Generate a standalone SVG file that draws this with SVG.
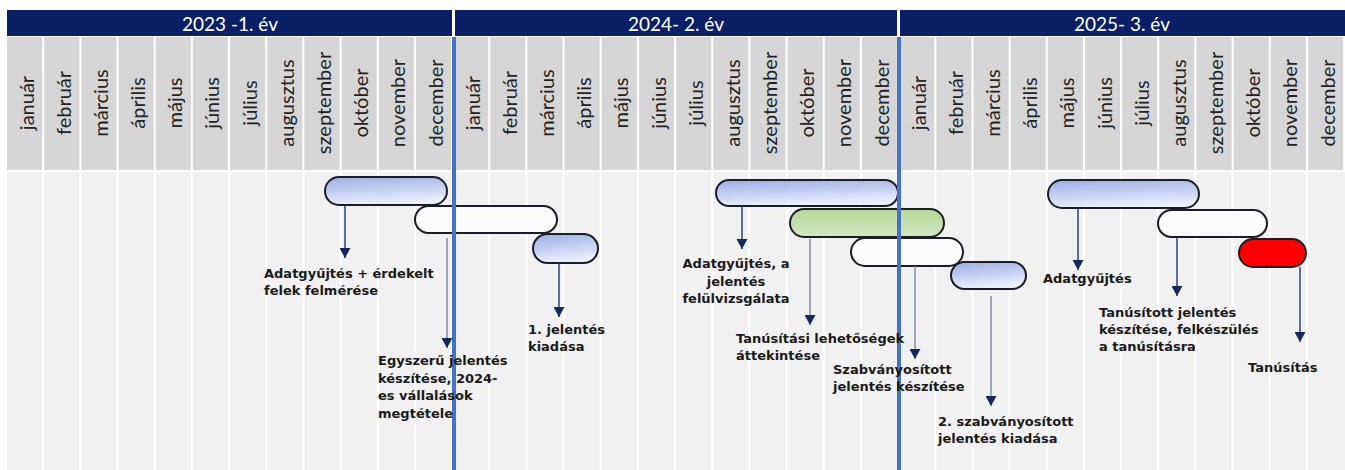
<svg xmlns="http://www.w3.org/2000/svg" width="1345" height="470" viewBox="0 0 1345 470">
<defs>
<style>
.yr{fill:#0b1f66}
.yt{font-family:Lato,"Liberation Sans",sans-serif;font-size:19px;fill:#fff;text-anchor:middle}
.ch{fill:#d6d6d6}
.cb{fill:#f1f1f1}
.mo{font-family:Lato,"Liberation Sans",sans-serif;font-size:20px;fill:#222;text-anchor:middle}
.sep{fill:#4472c4}
.bar{stroke:#1c1c28;stroke-width:2}
.lb{font-family:"DejaVu Sans",Verdana,sans-serif;font-weight:bold;font-size:13px;fill:#1a1a1a}
.cn{fill:none;stroke-width:1.4;marker-end:url(#ah)}
.dk{stroke:#1f3468}
.lt{stroke:#7d869e}
</style>
<linearGradient id="gb" x1="0" y1="0" x2="0.25" y2="1">
<stop offset="0" stop-color="#9aade5"/>
<stop offset="1" stop-color="#eaeffb"/>
</linearGradient>
<linearGradient id="gg" x1="0" y1="0" x2="0" y2="1">
<stop offset="0" stop-color="#b3d796"/>
<stop offset="1" stop-color="#d3e8c2"/>
</linearGradient>
<marker id="ah" viewBox="0 0 10 11" refX="10" refY="5.5" markerWidth="10" markerHeight="11" markerUnits="userSpaceOnUse" orient="auto">
<path d="M0,0 L10,5.5 L0,11 z" fill="#14285e"/>
</marker>
</defs>
<rect width="1345" height="470" fill="#fff"/>
<g id="years">
<rect class="yr" x="7" y="10" width="445" height="26"/>
<rect class="yr" x="455" y="10" width="442" height="26"/>
<rect class="yr" x="900" y="10" width="445" height="26"/>
<text class="yt" x="230" y="31">2023 -1. év</text>
<text class="yt" x="676" y="31">2024- 2. év</text>
<text class="yt" x="1122" y="31">2025- 3. év</text>
</g>
<g id="columns">
<rect class="ch" x="7" y="37" width="35.2" height="133"/><rect class="cb" x="7" y="172" width="35.2" height="298"/>
<rect class="ch" x="44.17" y="37" width="35.2" height="133"/><rect class="cb" x="44.17" y="172" width="35.2" height="298"/>
<rect class="ch" x="81.34" y="37" width="35.2" height="133"/><rect class="cb" x="81.34" y="172" width="35.2" height="298"/>
<rect class="ch" x="118.51" y="37" width="35.2" height="133"/><rect class="cb" x="118.51" y="172" width="35.2" height="298"/>
<rect class="ch" x="155.68" y="37" width="35.2" height="133"/><rect class="cb" x="155.68" y="172" width="35.2" height="298"/>
<rect class="ch" x="192.85" y="37" width="35.2" height="133"/><rect class="cb" x="192.85" y="172" width="35.2" height="298"/>
<rect class="ch" x="230.02" y="37" width="35.2" height="133"/><rect class="cb" x="230.02" y="172" width="35.2" height="298"/>
<rect class="ch" x="267.19" y="37" width="35.2" height="133"/><rect class="cb" x="267.19" y="172" width="35.2" height="298"/>
<rect class="ch" x="304.36" y="37" width="35.2" height="133"/><rect class="cb" x="304.36" y="172" width="35.2" height="298"/>
<rect class="ch" x="341.53" y="37" width="35.2" height="133"/><rect class="cb" x="341.53" y="172" width="35.2" height="298"/>
<rect class="ch" x="378.7" y="37" width="35.2" height="133"/><rect class="cb" x="378.7" y="172" width="35.2" height="298"/>
<rect class="ch" x="415.87" y="37" width="35.2" height="133"/><rect class="cb" x="415.87" y="172" width="35.2" height="298"/>
<rect class="ch" x="453.04" y="37" width="35.2" height="133"/><rect class="cb" x="453.04" y="172" width="35.2" height="298"/>
<rect class="ch" x="490.21" y="37" width="35.2" height="133"/><rect class="cb" x="490.21" y="172" width="35.2" height="298"/>
<rect class="ch" x="527.38" y="37" width="35.2" height="133"/><rect class="cb" x="527.38" y="172" width="35.2" height="298"/>
<rect class="ch" x="564.55" y="37" width="35.2" height="133"/><rect class="cb" x="564.55" y="172" width="35.2" height="298"/>
<rect class="ch" x="601.72" y="37" width="35.2" height="133"/><rect class="cb" x="601.72" y="172" width="35.2" height="298"/>
<rect class="ch" x="638.89" y="37" width="35.2" height="133"/><rect class="cb" x="638.89" y="172" width="35.2" height="298"/>
<rect class="ch" x="676.06" y="37" width="35.2" height="133"/><rect class="cb" x="676.06" y="172" width="35.2" height="298"/>
<rect class="ch" x="713.23" y="37" width="35.2" height="133"/><rect class="cb" x="713.23" y="172" width="35.2" height="298"/>
<rect class="ch" x="750.4" y="37" width="35.2" height="133"/><rect class="cb" x="750.4" y="172" width="35.2" height="298"/>
<rect class="ch" x="787.57" y="37" width="35.2" height="133"/><rect class="cb" x="787.57" y="172" width="35.2" height="298"/>
<rect class="ch" x="824.74" y="37" width="35.2" height="133"/><rect class="cb" x="824.74" y="172" width="35.2" height="298"/>
<rect class="ch" x="861.91" y="37" width="35.2" height="133"/><rect class="cb" x="861.91" y="172" width="35.2" height="298"/>
<rect class="ch" x="899.08" y="37" width="35.2" height="133"/><rect class="cb" x="899.08" y="172" width="35.2" height="298"/>
<rect class="ch" x="936.25" y="37" width="35.2" height="133"/><rect class="cb" x="936.25" y="172" width="35.2" height="298"/>
<rect class="ch" x="973.42" y="37" width="35.2" height="133"/><rect class="cb" x="973.42" y="172" width="35.2" height="298"/>
<rect class="ch" x="1010.59" y="37" width="35.2" height="133"/><rect class="cb" x="1010.59" y="172" width="35.2" height="298"/>
<rect class="ch" x="1047.76" y="37" width="35.2" height="133"/><rect class="cb" x="1047.76" y="172" width="35.2" height="298"/>
<rect class="ch" x="1084.93" y="37" width="35.2" height="133"/><rect class="cb" x="1084.93" y="172" width="35.2" height="298"/>
<rect class="ch" x="1122.1" y="37" width="35.2" height="133"/><rect class="cb" x="1122.1" y="172" width="35.2" height="298"/>
<rect class="ch" x="1159.27" y="37" width="35.2" height="133"/><rect class="cb" x="1159.27" y="172" width="35.2" height="298"/>
<rect class="ch" x="1196.44" y="37" width="35.2" height="133"/><rect class="cb" x="1196.44" y="172" width="35.2" height="298"/>
<rect class="ch" x="1233.61" y="37" width="35.2" height="133"/><rect class="cb" x="1233.61" y="172" width="35.2" height="298"/>
<rect class="ch" x="1270.78" y="37" width="35.2" height="133"/><rect class="cb" x="1270.78" y="172" width="35.2" height="298"/>
<rect class="ch" x="1307.95" y="37" width="35.2" height="133"/><rect class="cb" x="1307.95" y="172" width="37.05" height="298"/>
</g>
<g id="months">
<text class="mo" transform="translate(33.6 103) rotate(-90)">január</text>
<text class="mo" transform="translate(70.8 103) rotate(-90)">február</text>
<text class="mo" transform="translate(107.9 103) rotate(-90)">március</text>
<text class="mo" transform="translate(145.1 103) rotate(-90)">április</text>
<text class="mo" transform="translate(182.3 103) rotate(-90)">május</text>
<text class="mo" transform="translate(219.4 103) rotate(-90)">június</text>
<text class="mo" transform="translate(256.6 103) rotate(-90)">július</text>
<text class="mo" transform="translate(293.8 103) rotate(-90)">augusztus</text>
<text class="mo" transform="translate(331 103) rotate(-90)">szeptember</text>
<text class="mo" transform="translate(368.1 103) rotate(-90)">október</text>
<text class="mo" transform="translate(405.3 103) rotate(-90)">november</text>
<text class="mo" transform="translate(442.5 103) rotate(-90)">december</text>
<text class="mo" transform="translate(479.6 103) rotate(-90)">január</text>
<text class="mo" transform="translate(516.8 103) rotate(-90)">február</text>
<text class="mo" transform="translate(554 103) rotate(-90)">március</text>
<text class="mo" transform="translate(591.1 103) rotate(-90)">április</text>
<text class="mo" transform="translate(628.3 103) rotate(-90)">május</text>
<text class="mo" transform="translate(665.5 103) rotate(-90)">június</text>
<text class="mo" transform="translate(702.7 103) rotate(-90)">július</text>
<text class="mo" transform="translate(739.8 103) rotate(-90)">augusztus</text>
<text class="mo" transform="translate(777 103) rotate(-90)">szeptember</text>
<text class="mo" transform="translate(814.2 103) rotate(-90)">október</text>
<text class="mo" transform="translate(851.3 103) rotate(-90)">november</text>
<text class="mo" transform="translate(888.5 103) rotate(-90)">december</text>
<text class="mo" transform="translate(925.7 103) rotate(-90)">január</text>
<text class="mo" transform="translate(962.8 103) rotate(-90)">február</text>
<text class="mo" transform="translate(1000 103) rotate(-90)">március</text>
<text class="mo" transform="translate(1037.2 103) rotate(-90)">április</text>
<text class="mo" transform="translate(1074.4 103) rotate(-90)">május</text>
<text class="mo" transform="translate(1111.5 103) rotate(-90)">június</text>
<text class="mo" transform="translate(1148.7 103) rotate(-90)">július</text>
<text class="mo" transform="translate(1185.9 103) rotate(-90)">augusztus</text>
<text class="mo" transform="translate(1223 103) rotate(-90)">szeptember</text>
<text class="mo" transform="translate(1260.2 103) rotate(-90)">október</text>
<text class="mo" transform="translate(1297.4 103) rotate(-90)">november</text>
<text class="mo" transform="translate(1334.5 103) rotate(-90)">december</text>
</g>
<g id="n1"><rect class="bar" x="325" y="177" width="122" height="28" rx="14" fill="url(#gb)"/></g>
<g id="n2"><rect class="bar" x="415" y="206" width="142" height="27" rx="13.5" fill="#fbfbfb"/></g>
<g id="n3"><rect class="bar" x="533" y="234" width="65" height="29" rx="14.5" fill="url(#gb)"/></g>
<g id="n4"><rect class="bar" x="716" y="180" width="182" height="26" rx="13" fill="url(#gb)"/></g>
<g id="n5"><rect class="bar" x="790" y="209" width="154" height="28" rx="14" fill="url(#gg)"/></g>
<g id="n6"><rect class="bar" x="851" y="238" width="112" height="28" rx="14" fill="#fbfbfb"/></g>
<g id="n7"><rect class="bar" x="951" y="262" width="75" height="27" rx="13.5" fill="url(#gb)"/></g>
<g id="n8"><rect class="bar" x="1048" y="180" width="151" height="28" rx="14" fill="url(#gb)"/></g>
<g id="n9"><rect class="bar" x="1158" y="210" width="109" height="27" rx="13.5" fill="#fbfbfb"/></g>
<g id="n10"><rect class="bar" x="1239" y="239" width="67" height="28" rx="14" fill="#ff0000"/></g>
<g id="dividers">
<rect class="sep" x="452" y="37" width="4" height="433"/>
<rect class="sep" x="897" y="37" width="4" height="433"/>
</g>
<g id="connectors">
<line class="cn dk" x1="345" y1="205" x2="345" y2="258"/>
<line class="cn lt" x1="447" y1="238" x2="447" y2="348"/>
<line class="cn dk" x1="559" y1="263" x2="559" y2="317"/>
<line class="cn dk" x1="742" y1="206" x2="742" y2="249"/>
<line class="cn lt" x1="810" y1="239" x2="810" y2="325"/>
<line class="cn lt" x1="915" y1="266" x2="915" y2="359"/>
<line class="cn lt" x1="991" y1="296" x2="991" y2="406"/>
<line class="cn dk" x1="1078" y1="208" x2="1078" y2="270"/>
<line class="cn dk" x1="1177" y1="237" x2="1177" y2="296"/>
<line class="cn dk" x1="1300" y1="267" x2="1300" y2="342"/>
</g>
<g id="labels">
<text class="lb" x="264" y="278">Adatgyűjtés + érdekelt</text>
<text class="lb" x="264" y="295">felek felmérése</text>
<text class="lb" x="378" y="365">Egyszerű jelentés</text>
<text class="lb" x="378" y="383">készítése, 2024-</text>
<text class="lb" x="378" y="400">es vállalások</text>
<text class="lb" x="378" y="418">megtétele</text>
<text class="lb" x="528" y="334">1. jelentés</text>
<text class="lb" x="528" y="351">kiadása</text>
<text class="lb" x="736" y="268" text-anchor="middle">Adatgyűjtés, a</text>
<text class="lb" x="736" y="286" text-anchor="middle">jelentés</text>
<text class="lb" x="736" y="303" text-anchor="middle">felülvizsgálata</text>
<text class="lb" x="736" y="343">Tanúsítási lehetőségek</text>
<text class="lb" x="736" y="360">áttekintése</text>
<text class="lb" x="833" y="374">Szabványosított</text>
<text class="lb" x="833" y="391">jelentés készítése</text>
<text class="lb" x="938" y="426">2. szabványosított</text>
<text class="lb" x="938" y="443">jelentés kiadása</text>
<text class="lb" x="1043" y="283">Adatgyűjtés</text>
<text class="lb" x="1099" y="317">Tanúsított jelentés</text>
<text class="lb" x="1099" y="334">készítése, felkészülés</text>
<text class="lb" x="1099" y="351">a tanúsításra</text>
<text class="lb" x="1248" y="372">Tanúsítás</text>
</g>
</svg>
